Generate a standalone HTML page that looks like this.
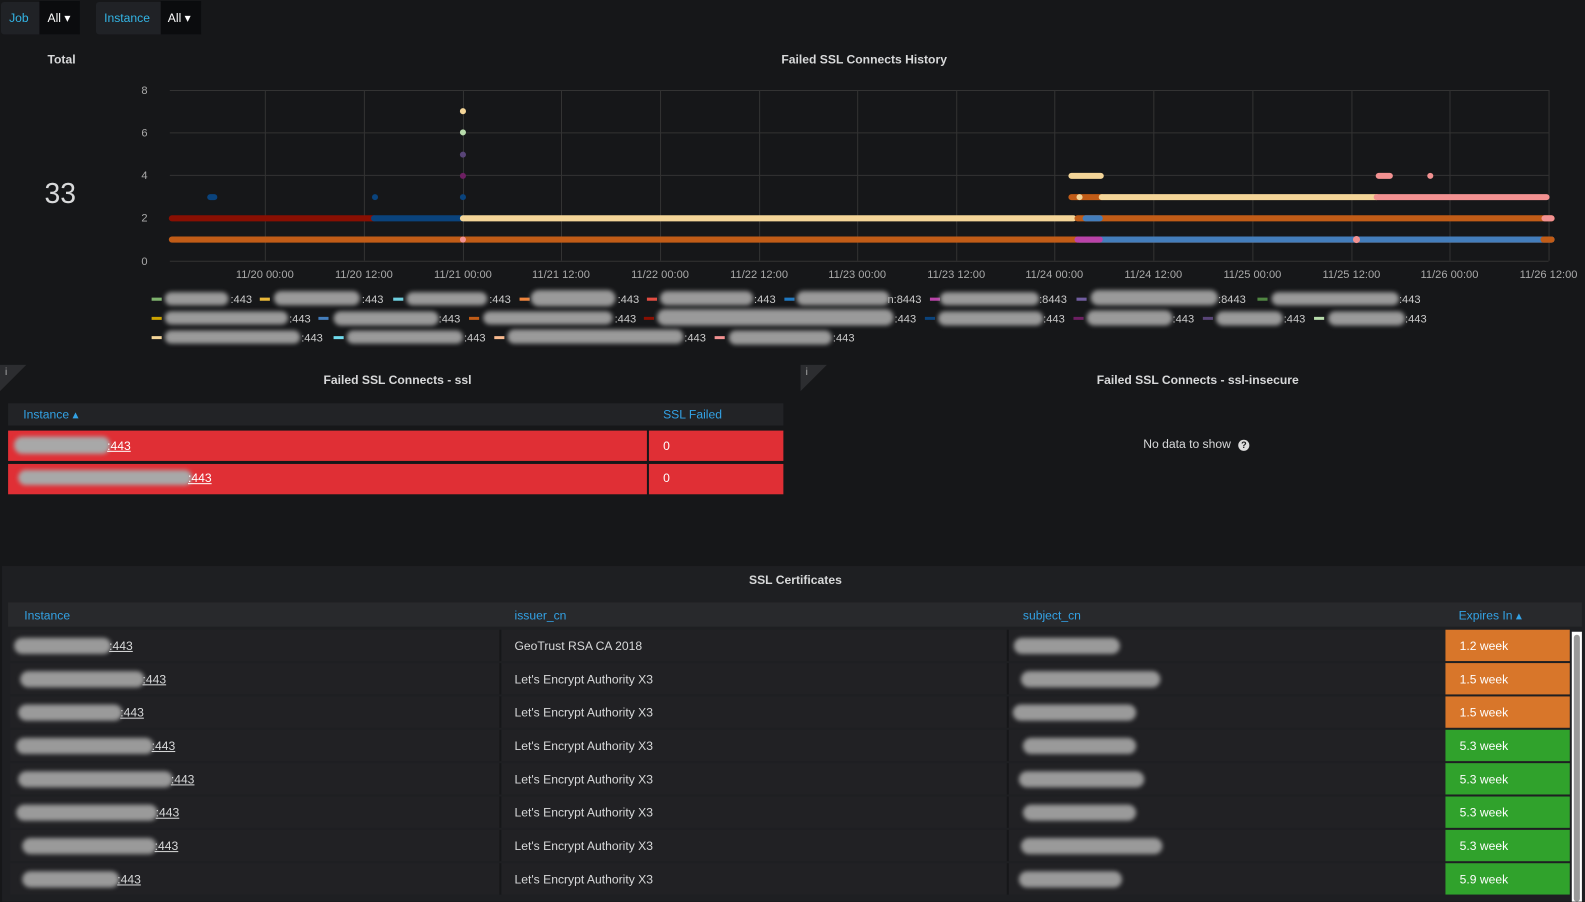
<!DOCTYPE html>
<html><head><meta charset="utf-8"><style>
*{margin:0;padding:0;box-sizing:border-box}
body{width:1585px;height:892px;background:#161719;font-family:"Liberation Sans",sans-serif;color:#d8d9da;font-size:12px;position:relative;overflow:hidden}
#w{position:absolute;left:0;top:0;width:1568px;height:883px;transform:scale(1.0108);transform-origin:0 0}
.a{position:absolute}
.blue{color:#33a2e5}
.blob{position:absolute;background:#9a9a9a;border-radius:8px;filter:blur(2px)}
.u{text-decoration:underline}
.row{position:absolute;left:10px;width:1543px;height:31px;background:#212124}
</style></head><body><div id="w">
<div class="a" style="left:1px;top:2px;width:78px;height:32px;background:#202226;border-radius:3px"></div>
<div class="a" style="left:9px;top:11px;font-size:12px;color:#33b5e5">Job</div>
<div class="a" style="left:39px;top:1px;width:40px;height:33px;background:#0b0c0e"></div>
<div class="a" style="left:47px;top:11px;color:#fff">All ▾</div>
<div class="a" style="left:95px;top:2px;width:104px;height:32px;background:#202226;border-radius:3px"></div>
<div class="a" style="left:103px;top:11px;color:#33b5e5">Instance</div>
<div class="a" style="left:159px;top:1px;width:40px;height:33px;background:#0b0c0e"></div>
<div class="a" style="left:166px;top:11px;color:#fff">All ▾</div>

<div class="a" style="left:47px;top:52px;font-size:12px;font-weight:bold">Total</div>
<div class="a" style="left:44px;top:176px;font-size:28px;color:#d8d9da">33</div>
<div class="a" style="left:773px;top:52px;font-weight:bold">Failed SSL Connects History</div>

<svg class="a" style="left:0;top:0" width="1585" height="350">
<g stroke="#333" stroke-width="1">
<line x1="168" x2="1532" y1="89.5" y2="89.5"/><line x1="168" x2="1532" y1="131.5" y2="131.5"/><line x1="168" x2="1532" y1="173.5" y2="173.5"/><line x1="168" x2="1532" y1="215.5" y2="215.5"/><line x1="168" x2="1532" y1="258.5" y2="258.5"/>
<line x1="262.5" x2="262.5" y1="89" y2="258"/><line x1="360.5" x2="360.5" y1="89" y2="258"/><line x1="458.5" x2="458.5" y1="89" y2="258"/><line x1="555.5" x2="555.5" y1="89" y2="258"/><line x1="653.5" x2="653.5" y1="89" y2="258"/><line x1="751.5" x2="751.5" y1="89" y2="258"/><line x1="848.5" x2="848.5" y1="89" y2="258"/><line x1="946.5" x2="946.5" y1="89" y2="258"/><line x1="1043.5" x2="1043.5" y1="89" y2="258"/><line x1="1141.5" x2="1141.5" y1="89" y2="258"/><line x1="1239.5" x2="1239.5" y1="89" y2="258"/><line x1="1337.5" x2="1337.5" y1="89" y2="258"/><line x1="1434.5" x2="1434.5" y1="89" y2="258"/><line x1="1532.5" x2="1532.5" y1="89" y2="258"/>
</g>
<g fill="#aaa" font-size="11" font-family="Liberation Sans">
<text x="146" y="93" text-anchor="end">8</text><text x="146" y="135" text-anchor="end">6</text><text x="146" y="177" text-anchor="end">4</text><text x="146" y="219" text-anchor="end">2</text><text x="146" y="262" text-anchor="end">0</text>
<g text-anchor="middle">
<text x="262" y="275">11/20 00:00</text><text x="360" y="275">11/20 12:00</text><text x="458" y="275">11/21 00:00</text><text x="555" y="275">11/21 12:00</text><text x="653" y="275">11/22 00:00</text><text x="751" y="275">11/22 12:00</text><text x="848" y="275">11/23 00:00</text><text x="946" y="275">11/23 12:00</text><text x="1043" y="275">11/24 00:00</text><text x="1141" y="275">11/24 12:00</text><text x="1239" y="275">11/25 00:00</text><text x="1337" y="275">11/25 12:00</text><text x="1434" y="275">11/26 00:00</text><text x="1532" y="275">11/26 12:00</text>
</g></g>
<g stroke-width="6" stroke-linecap="round" fill="none">
<line x1="170" x2="1535" y1="237" y2="237" stroke="#c15c17"/>
<line x1="1068" x2="1535" y1="237" y2="237" stroke="#447ebc"/>
<line x1="1066" x2="1088" y1="237" y2="237" stroke="#ba43a9"/>
<line x1="1527" x2="1535" y1="237" y2="237" stroke="#c15c17"/>
<line x1="170" x2="370" y1="216" y2="216" stroke="#890f02"/>
<line x1="370" x2="458" y1="216" y2="216" stroke="#0a437c"/>
<line x1="458" x2="1062" y1="216" y2="216" stroke="#f4d598"/>
<line x1="1066" x2="1535" y1="216" y2="216" stroke="#c15c17"/>
<line x1="1074" x2="1088" y1="216" y2="216" stroke="#447ebc"/>
<line x1="1528" x2="1535" y1="216" y2="216" stroke="#f29191"/>
<line x1="1060" x2="1090" y1="195" y2="195" stroke="#c15c17"/>
<line x1="1090" x2="1362" y1="195" y2="195" stroke="#f4d598"/>
<line x1="1362" x2="1530" y1="195" y2="195" stroke="#f29191"/>
<line x1="1060" x2="1089" y1="174" y2="174" stroke="#f4d598"/>
<line x1="1364" x2="1375" y1="174" y2="174" stroke="#f29191"/>
<line x1="208" x2="212" y1="195" y2="195" stroke="#0a437c"/>
</g>
<circle cx="1415" cy="174" r="3" fill="#f29191"/>
<circle cx="371" cy="195" r="3" fill="#0a437c"/>
<circle cx="458" cy="195" r="3" fill="#0a437c"/>
<circle cx="458" cy="174" r="3" fill="#6d1f62"/>
<circle cx="458" cy="153" r="3" fill="#584477"/>
<circle cx="458" cy="131" r="3" fill="#b7dbab"/>
<circle cx="458" cy="110" r="3" fill="#f4d598"/>
<circle cx="458" cy="237" r="3" fill="#f29191"/>
<circle cx="1068" cy="195" r="3" fill="#f4d598"/>
<circle cx="1342" cy="237" r="3.5" fill="#f29191"/>
<g stroke-width="3">
<line x1="150" x2="160" y1="296" y2="296" stroke="#7eb26d"/><line x1="257" x2="267" y1="296" y2="296" stroke="#eab839"/><line x1="389" x2="399" y1="296" y2="296" stroke="#6ed0e0"/><line x1="514" x2="524" y1="296" y2="296" stroke="#ef843c"/><line x1="640" x2="650" y1="296" y2="296" stroke="#e24d42"/><line x1="776" x2="786" y1="296" y2="296" stroke="#1f78c1"/><line x1="920" x2="930" y1="296" y2="296" stroke="#ba43a9"/><line x1="1065" x2="1075" y1="296" y2="296" stroke="#705da0"/><line x1="1244" x2="1254" y1="296" y2="296" stroke="#508642"/>
<line x1="150" x2="160" y1="315" y2="315" stroke="#cca300"/><line x1="315" x2="325" y1="315" y2="315" stroke="#447ebc"/><line x1="464" x2="474" y1="315" y2="315" stroke="#c15c17"/><line x1="637" x2="647" y1="315" y2="315" stroke="#890f02"/><line x1="915" x2="925" y1="315" y2="315" stroke="#0a437c"/><line x1="1062" x2="1072" y1="315" y2="315" stroke="#6d1f62"/><line x1="1190" x2="1200" y1="315" y2="315" stroke="#584477"/><line x1="1300" x2="1310" y1="315" y2="315" stroke="#b7dbab"/>
<line x1="150" x2="160" y1="334" y2="334" stroke="#f4d598"/><line x1="330" x2="340" y1="334" y2="334" stroke="#70dbed"/><line x1="489" x2="499" y1="334" y2="334" stroke="#f9ba8f"/><line x1="707" x2="717" y1="334" y2="334" stroke="#f29191"/>
</g>
<g fill="#ccc" font-size="11" font-family="Liberation Sans">
<text x="228" y="300">:443</text><text x="358" y="300">:443</text><text x="484" y="300">:443</text><text x="611" y="300">:443</text><text x="746" y="300">:443</text><text x="878" y="300">n:8443</text><text x="1028" y="300">:8443</text><text x="1205" y="300">:8443</text><text x="1384" y="300">:443</text>
<text x="286" y="319">:443</text><text x="434" y="319">:443</text><text x="608" y="319">:443</text><text x="885" y="319">:443</text><text x="1032" y="319">:443</text><text x="1160" y="319">:443</text><text x="1270" y="319">:443</text><text x="1390" y="319">:443</text>
<text x="298" y="338">:443</text><text x="459" y="338">:443</text><text x="677" y="338">:443</text><text x="824" y="338">:443</text>
</g>
</svg>
<div class="blob" style="left:163px;top:289px;width:63px;height:13px"></div>
<div class="blob" style="left:271px;top:288px;width:85px;height:14px"></div>
<div class="blob" style="left:402px;top:289px;width:80px;height:13px"></div>
<div class="blob" style="left:525px;top:287px;width:84px;height:16px"></div>
<div class="blob" style="left:653px;top:288px;width:92px;height:14px"></div>
<div class="blob" style="left:788px;top:288px;width:92px;height:14px"></div>
<div class="blob" style="left:930px;top:289px;width:98px;height:13px"></div>
<div class="blob" style="left:1079px;top:287px;width:126px;height:15px"></div>
<div class="blob" style="left:1258px;top:289px;width:126px;height:13px"></div>
<div class="blob" style="left:163px;top:308px;width:122px;height:13px"></div>
<div class="blob" style="left:330px;top:308px;width:104px;height:14px"></div>
<div class="blob" style="left:478px;top:308px;width:128px;height:13px"></div>
<div class="blob" style="left:650px;top:306px;width:234px;height:16px"></div>
<div class="blob" style="left:928px;top:308px;width:104px;height:14px"></div>
<div class="blob" style="left:1075px;top:307px;width:85px;height:15px"></div>
<div class="blob" style="left:1203px;top:308px;width:66px;height:14px"></div>
<div class="blob" style="left:1314px;top:308px;width:76px;height:14px"></div>
<div class="blob" style="left:163px;top:327px;width:134px;height:13px"></div>
<div class="blob" style="left:343px;top:327px;width:115px;height:13px"></div>
<div class="blob" style="left:502px;top:326px;width:174px;height:14px"></div>
<div class="blob" style="left:721px;top:327px;width:102px;height:14px"></div>

<div class="a" style="left:0;top:361px;width:0;height:0;border-top:26px solid #2c2d30;border-right:26px solid transparent"></div>
<div class="a" style="left:5px;top:363px;font-size:10px;color:#aaa">i</div>
<div class="a" style="left:792px;top:361px;width:0;height:0;border-top:26px solid #2c2d30;border-right:26px solid transparent"></div>
<div class="a" style="left:797px;top:363px;font-size:10px;color:#aaa">i</div>
<div class="a" style="left:320px;top:369px;font-weight:bold">Failed SSL Connects - ssl</div>
<div class="a" style="left:1085px;top:369px;font-weight:bold">Failed SSL Connects - ssl-insecure</div>
<div class="a" style="left:1131px;top:432px">No data to show <span style="display:inline-block;width:11px;height:11px;border-radius:50%;background:#ddd;color:#161719;font-size:9px;text-align:center;line-height:11px;font-weight:bold;margin-left:4px">?</span></div>

<div class="a" style="left:8px;top:399px;width:767px;height:22px;background:#222326"></div>
<div class="a blue" style="left:23px;top:403px">Instance ▴</div>
<div class="a blue" style="left:656px;top:403px">SSL Failed</div>
<div class="a" style="left:8px;top:426px;width:632px;height:30px;background:#e02f35"></div>
<div class="a" style="left:642px;top:426px;width:133px;height:30px;background:#e02f35"></div>
<div class="a" style="left:8px;top:459px;width:632px;height:30px;background:#e02f35"></div>
<div class="a" style="left:642px;top:459px;width:133px;height:30px;background:#e02f35"></div>
<div class="blob" style="left:14px;top:432px;width:95px;height:17px;background:#a8a8a8"></div>
<div class="a u" style="left:106px;top:434px;color:#fff">:443</div>
<div class="blob" style="left:18px;top:465px;width:172px;height:15px;background:#a8a8a8"></div>
<div class="a u" style="left:186px;top:466px;color:#fff">:443</div>
<div class="a" style="left:656px;top:434px;color:#fff">0</div>
<div class="a" style="left:656px;top:466px;color:#fff">0</div>

<div class="a" style="left:2px;top:560px;width:1583px;height:332px;background:#1e1f22"></div>
<div class="a" style="left:741px;top:567px;font-weight:bold">SSL Certificates</div>
<div class="a" style="left:8px;top:596px;width:1557px;height:24px;background:#28292c"></div>
<div class="a blue" style="left:24px;top:602px">Instance</div>
<div class="a blue" style="left:509px;top:602px">issuer_cn</div>
<div class="a blue" style="left:1012px;top:602px">subject_cn</div>
<div class="a blue" style="left:1443px;top:602px">Expires In ▴</div>
<div class="a" style="left:1555px;top:625px;width:10px;height:267px;background:#fff"></div>
<div class="a" style="left:1557px;top:628px;width:6px;height:264px;background:#999;border-radius:3px"></div>

<div id="rows"></div>
</div>
<script>
var d=[["1.2 week","#d8762a","GeoTrust RSA CA 2018",[14,96],[1003,105]],["1.5 week","#d8762a","Let's Encrypt Authority X3",[20,123],[1010,138]],["1.5 week","#d8762a","Let's Encrypt Authority X3",[18,103],[1002,122]],["5.3 week","#30a22c","Let's Encrypt Authority X3",[16,136],[1012,112]],["5.3 week","#30a22c","Let's Encrypt Authority X3",[18,153],[1008,124]],["5.3 week","#30a22c","Let's Encrypt Authority X3",[16,140],[1012,112]],["5.3 week","#30a22c","Let's Encrypt Authority X3",[22,133],[1010,140]],["5.9 week","#30a22c","Let's Encrypt Authority X3",[22,96],[1008,102]]];
var h="";
d.forEach(function(r,i){var t=623+i*33;
h+='<div class="row" style="top:'+t+'px"></div>';
h+='<div class="a" style="left:494px;top:'+t+'px;width:2px;height:31px;background:#161719"></div>';
h+='<div class="a" style="left:996px;top:'+t+'px;width:2px;height:31px;background:#161719"></div>';
h+='<div class="a" style="left:1430px;top:'+t+'px;width:123px;height:31px;background:'+r[1]+'"></div>';
h+='<div class="a" style="left:1444px;top:'+(t+9)+'px;color:#fff">'+r[0]+'</div>';
h+='<div class="a" style="left:509px;top:'+(t+9)+'px">'+r[2]+'</div>';
h+='<div class="blob" style="left:'+r[3][0]+'px;top:'+(t+8)+'px;width:'+r[3][1]+'px;height:16px"></div>';
h+='<div class="a u" style="left:'+(r[3][0]+r[3][1]-2)+'px;top:'+(t+9)+'px">:443</div>';
h+='<div class="blob" style="left:'+r[4][0]+'px;top:'+(t+8)+'px;width:'+r[4][1]+'px;height:16px"></div>';
});
document.getElementById("rows").innerHTML=h;
</script>
</body></html>
